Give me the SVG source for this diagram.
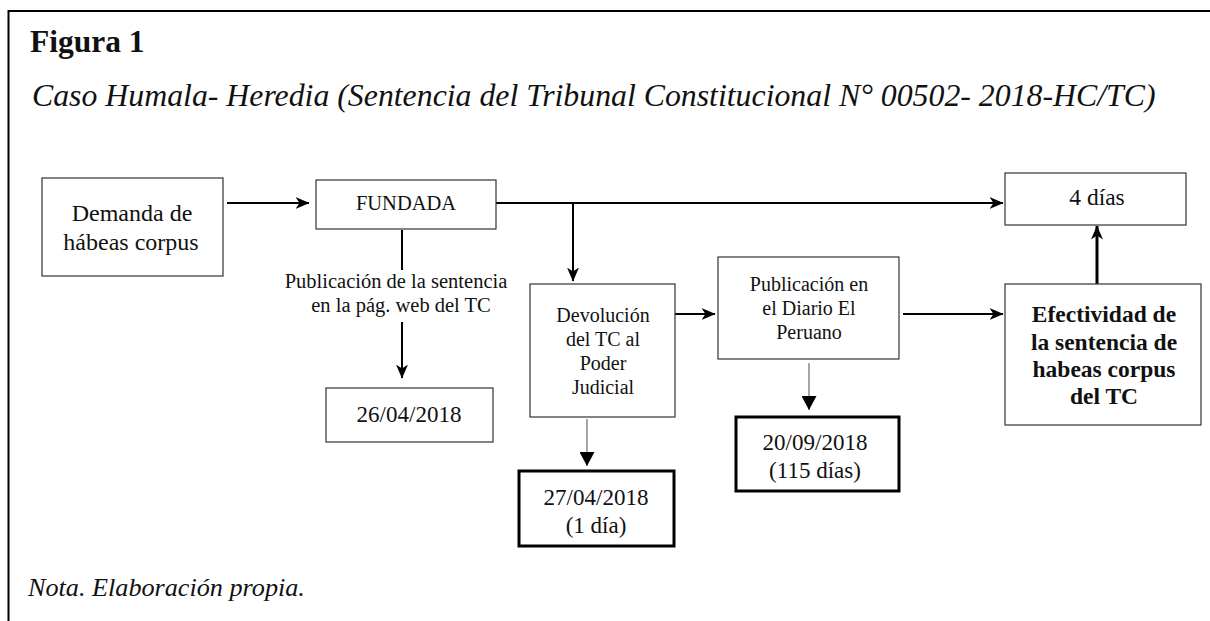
<svg xmlns="http://www.w3.org/2000/svg" width="1210" height="621" viewBox="0 0 1210 621">
<style>
text{font-family:"Liberation Serif","Times New Roman",serif;fill:#111}
.box{fill:#fff;stroke:#333;stroke-width:1.2}
.thick{fill:#fff;stroke:#000;stroke-width:3}
.c{stroke:#000;stroke-width:2;fill:none}
.g{stroke:#777;stroke-width:1.3;fill:none}
.m{text-anchor:middle}
</style>
<defs>
<marker id="st" viewBox="0 0 14 12" refX="13.5" refY="6" markerWidth="14" markerHeight="12" markerUnits="userSpaceOnUse" orient="auto">
<path d="M0,0 L14,6 L0,12 L4,6 Z" fill="#000"/>
</marker>
<marker id="tri" viewBox="0 0 14 15" refX="14" refY="7.5" markerWidth="14" markerHeight="15" markerUnits="userSpaceOnUse" orient="auto">
<path d="M0,0 L14,7.5 L0,15 Z" fill="#000"/>
</marker>
</defs>
<rect width="1210" height="621" fill="#fff"/>
<path d="M8.5,621 V11 H1210" fill="none" stroke="#000" stroke-width="2"/>
<text x="30" y="52" font-size="31.5" font-weight="bold">Figura 1</text>
<text x="32" y="106" font-size="31.8" font-style="italic">Caso Humala- Heredia (Sentencia del Tribunal Constitucional N° 00502- 2018-HC/TC)</text>
<text x="28" y="596" font-size="26.2" font-style="italic">Nota. Elaboración propia.</text>

<g id="connectors">
<path class="c" d="M227,203 H309" marker-end="url(#st)"/>
<path class="c" d="M496,203 H1003" marker-end="url(#st)"/>
<path class="c" d="M573,203 V281" marker-end="url(#st)"/>
<path class="c" d="M402,230 V270"/>
<path class="c" d="M402,322 V378" marker-end="url(#st)"/>
<path class="c" d="M675,314 H715" marker-end="url(#st)"/>
<path class="c" d="M903,314 H1003" marker-end="url(#st)"/>
<path class="g" d="M587,419 V466" marker-end="url(#tri)"/>
<path class="g" d="M809,363 V410" marker-end="url(#tri)"/>
<path d="M1097,284 V226" stroke="#000" stroke-width="3" fill="none" marker-end="url(#st)"/>
<text class="m" x="396" y="288" font-size="20.5">Publicación de la sentencia</text>
<text class="m" x="401" y="312" font-size="20.5">en la pág. web del TC</text>
</g>

<g id="demanda">
<rect class="box" x="42" y="178" width="181" height="98"/>
<text class="m" x="132" y="221" font-size="24">Demanda de</text>
<text class="m" x="131" y="250" font-size="24">hábeas corpus</text>
</g>
<g id="fundada">
<rect class="box" x="316" y="180" width="180" height="49"/>
<text class="m" x="406" y="210" font-size="20.5">FUNDADA</text>
</g>
<g id="fecha1">
<rect class="box" x="326" y="388" width="167" height="54"/>
<text class="m" x="409" y="422" font-size="23">26/04/2018</text>
</g>
<g id="devolucion">
<rect class="box" x="530" y="284" width="145" height="133"/>
<text class="m" x="603" y="322" font-size="20">Devolución</text>
<text class="m" x="603" y="346" font-size="20">del TC al</text>
<text class="m" x="603" y="370" font-size="20">Poder</text>
<text class="m" x="603" y="394" font-size="20">Judicial</text>
</g>
<g id="fecha2">
<rect class="thick" x="519" y="471" width="155" height="75"/>
<text class="m" x="596" y="505" font-size="23">27/04/2018</text>
<text class="m" x="596" y="533" font-size="23">(1 día)</text>
</g>
<g id="publicacion">
<rect class="box" x="718" y="257" width="181" height="102"/>
<text class="m" x="809" y="291" font-size="20">Publicación en</text>
<text class="m" x="809" y="315" font-size="20">el Diario El</text>
<text class="m" x="809" y="339" font-size="20">Peruano</text>
</g>
<g id="fecha3">
<rect class="thick" x="736" y="417" width="163" height="74"/>
<text class="m" x="815" y="450" font-size="23">20/09/2018</text>
<text class="m" x="815" y="478" font-size="23">(115 días)</text>
</g>
<g id="dias">
<rect class="box" x="1005" y="173" width="181" height="52"/>
<text class="m" x="1097" y="205" font-size="23.5">4 días</text>
</g>
<g id="efectividad">
<rect class="box" x="1005" y="284" width="196" height="141" stroke-width="1.6"/>
<text class="m" x="1104" y="322" font-size="23.5" font-weight="bold">Efectividad de</text>
<text class="m" x="1104" y="350" font-size="23.5" font-weight="bold">la sentencia de</text>
<text class="m" x="1104" y="377" font-size="23.5" font-weight="bold">habeas corpus</text>
<text class="m" x="1104" y="404" font-size="23.5" font-weight="bold">del TC</text>
</g>
</svg>
